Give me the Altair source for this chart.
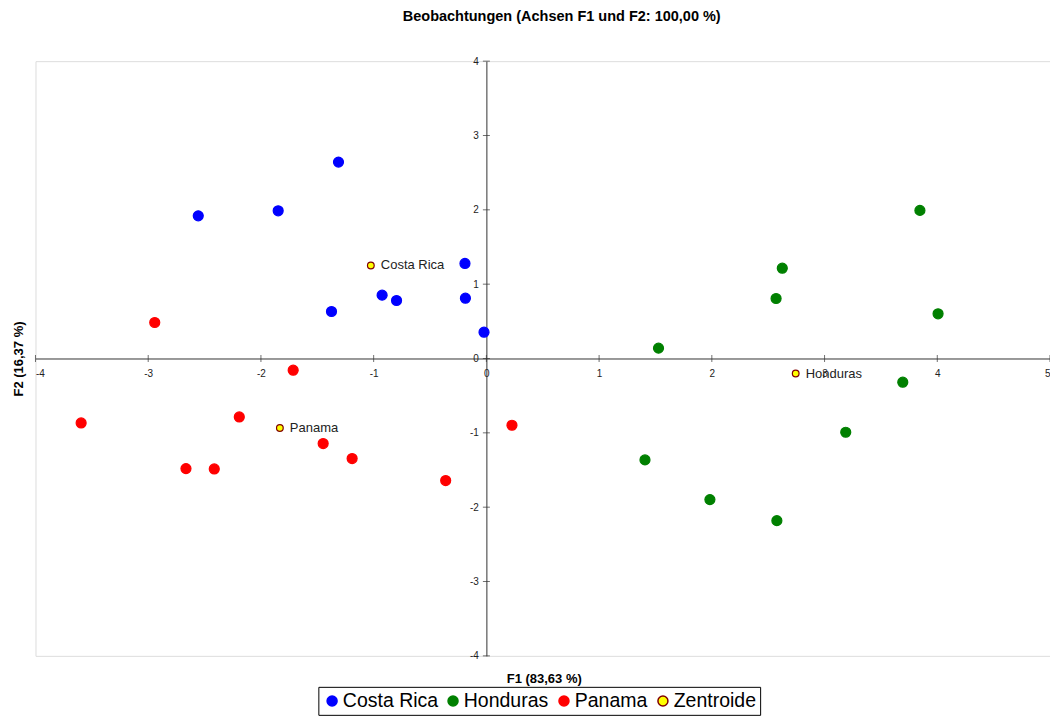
import altair as alt
import pandas as pd

cr_x = [-2.556, -1.847, -1.312, -0.190, -0.925, -0.797, -1.374, -0.186, -0.021]
cr_y = [1.919, 1.987, 2.642, 1.279, 0.852, 0.780, 0.632, 0.811, 0.354]
ho_x = [1.527, 2.625, 2.570, 3.846, 4.007, 3.694, 3.188, 1.407, 1.983, 2.577]
ho_y = [0.139, 1.215, 0.807, 1.992, 0.601, -0.319, -0.992, -1.364, -1.898, -2.181]
pa_x = [-2.942, -1.714, -3.595, -2.192, -2.665, -2.414, -1.448, -1.191, -0.361, 0.227]
pa_y = [0.484, -0.157, -0.867, -0.786, -1.481, -1.486, -1.144, -1.346, -1.642, -0.898]
centroid_names = ["Costa Rica", "Honduras", "Panama"]
centroid_x = [-1.025, 2.744, -1.832]
centroid_y = [1.251, -0.202, -0.934]
x_ticks = [-4, -3, -2, -1, 0, 1, 2, 3, 4, 5]
y_ticks = [-4, -3, -2, -1, 0, 1, 2, 3, 4]
groups = ["Costa Rica", "Honduras", "Panama", "Zentroide"]
fill_colors = ["#0000FF", "#008000", "#FF0000", "#FFFF00"]
stroke_colors = ["#0000FF", "#008000", "#FF0000", "#800000"]

rows = []
for g, xs, ys in [("Costa Rica", cr_x, cr_y), ("Honduras", ho_x, ho_y), ("Panama", pa_x, pa_y)]:
    for a, b in zip(xs, ys):
        rows.append({"F1": a, "F2": b, "group": g, "kind": "obs", "label": ""})
for n, a, b in zip(centroid_names, centroid_x, centroid_y):
    rows.append({"F1": a, "F2": b, "group": "Zentroide", "kind": "centroid", "label": n})
df = pd.DataFrame(rows)

W, H = 1015, 595
FONT = "Liberation Sans"

xscale = alt.Scale(domain=[-4, 5], nice=False, zero=False)
yscale = alt.Scale(domain=[-4, 4], nice=False, zero=False)

xaxis = alt.Axis(
    orient="bottom", offset=-H / 2, values=x_ticks, ticks=False, grid=False,
    labelExpr="datum.value + ''",
    domainColor="#333333", labelPadding=10, labelFontSize=10, labelColor="#222222",
    labelFont=FONT, title="F1 (83,63 %)", titleFont=FONT, titleFontSize=13,
    titleFontWeight="bold", titleColor="#000000", titleX=W / 2 + 1, titleY=320,
    titleBaseline="middle", titleAlign="center",
)
yaxis = alt.Axis(
    orient="left", offset=-W * 4 / 9, values=y_ticks, ticks=False, grid=False,
    labelExpr="datum.value + ''",
    domainColor="#333333", labelPadding=8, labelFontSize=10, labelColor="#222222",
    labelFont=FONT, title="F2 (16,37 %)", titleFont=FONT, titleFontSize=13,
    titleFontWeight="bold", titleColor="#000000", titleX=-468, titleY=H / 2,
    titleBaseline="middle", titleAlign="center", titleAngle=270,
)

legend = alt.Legend(
    title=None, orient="none", legendX=283, legendY=626, direction="horizontal",
    strokeColor="black", fillColor="white", padding=4, labelFontSize=19.5,
    labelFont=FONT, labelColor="#000000", symbolSize=100, symbolType="circle",
    symbolStrokeWidth=1.5, labelOffset=1, columnPadding=5,
)

points = alt.Chart(df).mark_point(filled=True, strokeWidth=1.2, opacity=1).encode(
    x=alt.X("F1:Q", scale=xscale, axis=xaxis),
    y=alt.Y("F2:Q", scale=yscale, axis=yaxis),
    fill=alt.Fill("group:N", scale=alt.Scale(domain=groups, range=fill_colors), legend=legend),
    stroke=alt.Stroke("group:N", scale=alt.Scale(domain=groups, range=stroke_colors), legend=legend),
    size=alt.Size("kind:N", scale=alt.Scale(domain=["obs", "centroid"], range=[100, 45]), legend=None),
)

labels = alt.Chart(df).transform_filter(alt.datum.kind == "centroid").mark_text(
    align="left", baseline="middle", dx=10, fontSize=13, font=FONT, color="#222222"
).encode(x="F1:Q", y="F2:Q", text="label:N")

xt = pd.DataFrame({"v": x_ticks, "z": [0] * len(x_ticks)})
yt = pd.DataFrame({"v": y_ticks, "z": [0] * len(y_ticks)})
xtick_marks = alt.Chart(xt).mark_tick(orient="vertical", size=7, thickness=1, color="#333333").encode(
    x="v:Q", y="z:Q")
ytick_marks = alt.Chart(yt).mark_tick(orient="horizontal", size=7, thickness=1, color="#333333").encode(
    x="z:Q", y="v:Q")

chart = alt.layer(xtick_marks, ytick_marks, points, labels).properties(
    width=W, height=H,
    title=alt.TitleParams(
        "Beobachtungen (Achsen F1 und F2: 100,00 %)", font=FONT, fontSize=14.5,
        fontWeight="bold", color="#000000", anchor="middle", dx=19, offset=32,
    ),
    autosize=alt.AutoSizeParams(type="none"),
    padding={"left": 35.5, "top": 61, "right": 0, "bottom": 61},
).configure_view(stroke="#888888", strokeWidth=1).configure(background="white")

chart.save("out.html", embed_options={"renderer": "svg", "actions": False})
